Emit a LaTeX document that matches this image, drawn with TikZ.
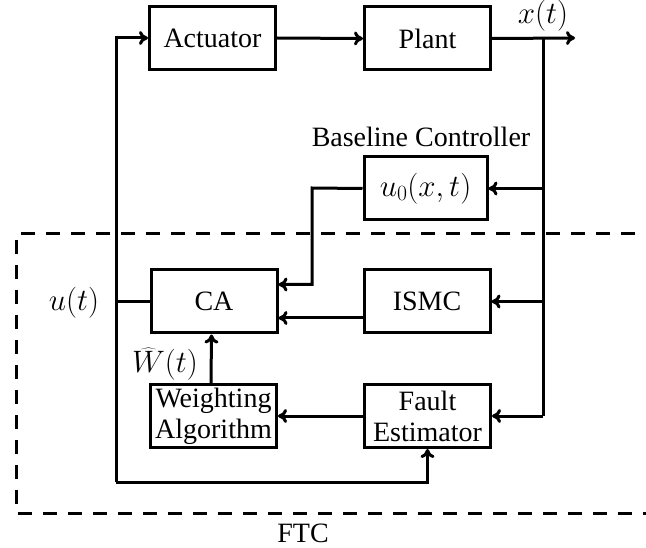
\RequirePackage{fix-cm}
\documentclass[tikz,border=0pt]{standalone}
\usepackage{fontspec}
\setmainfont{Liberation Serif}
\usetikzlibrary{arrows.meta}
\begin{document}
\begin{tikzpicture}[x=1pt,y=-1pt,
  every node/.style={font=\fontsize{28}{31}\selectfont, inner sep=0pt},
  mathtxt/.style={font=\fontsize{31}{34}\selectfont},
  blk/.style={draw, line width=3pt, minimum width=126pt, minimum height=63pt, align=center},
  conn/.style={line width=3pt},
  arr/.style={line width=3pt, -{To[length=9pt,width=14pt]}},
  frame/.style={line width=3pt, dash pattern=on 14pt off 11pt}]
\useasboundingbox (0,0) rectangle (646,548);
% blocks
\node[blk] (act) at (212.5,38) {Actuator};
\node[blk] (plant) at (427.5,38.5) {Plant};
\node[blk, mathtxt, minimum width=123pt] (base) at (425.5,188.5) {$u_0(x,t)$};
\node[blk] (ca) at (214,301.5) {CA};
\node[blk] (ismc) at (427,301.5) {ISMC};
\node[blk, minimum height=63pt] (wa) at (213.5,416) {Weighting\\Algorithm};
\node[blk] (fe) at (427.5,416) {Fault\\Estimator};
% labels
\node[mathtxt] (xt) at (543,16) {$x(t)$};
\node (bcl) at (421,137) {Baseline Controller};
\node[mathtxt] (ut) at (74,303) {$u(t)$};
\node[mathtxt] (wt) at (165,364) {$\widehat{W}(t)$};
\node (ftc) at (303,533) {FTC};
% coordinates
\coordinate (lb) at (116,482);
\coordinate (lt) at (116,38);
\coordinate (out) at (575,38);
\coordinate (jx) at (543,38);
\coordinate (jb) at (543,416);
\coordinate (bend) at (312,188);
% FTC frame
\draw[frame] (660,234) -- (16,234) -- (16,513) -- (660,513);
% connectors
\draw[arr] (act.east) -- (plant.west);
\draw[arr] (plant.east) -- (out);
\draw[conn] (jx) -- (jb);
\draw[arr] (base.east -| jx) -- (base.east);
\draw[arr] (ismc.east -| jx) -- (ismc.east);
\draw[arr] (jb) -- (fe.east);
\draw[arr] (base.west) -- (bend) |- ([yshift=17pt]ca.east);
\draw[arr] ([yshift=-16.5pt]ismc.west) -- ([yshift=-16.5pt]ca.east);
\draw[arr] (fe.west) -- (wa.east);
\draw[arr] ([xshift=-2.5pt]wa.north) -- ([xshift=-2.5pt]ca.south);
\draw[conn] (ca.west) -- (ca.west -| lt);
\draw[arr] (lb) -- (lt) -- (act.west);
\draw[arr] (lb) -| (fe.south);
\end{tikzpicture}
\end{document}
